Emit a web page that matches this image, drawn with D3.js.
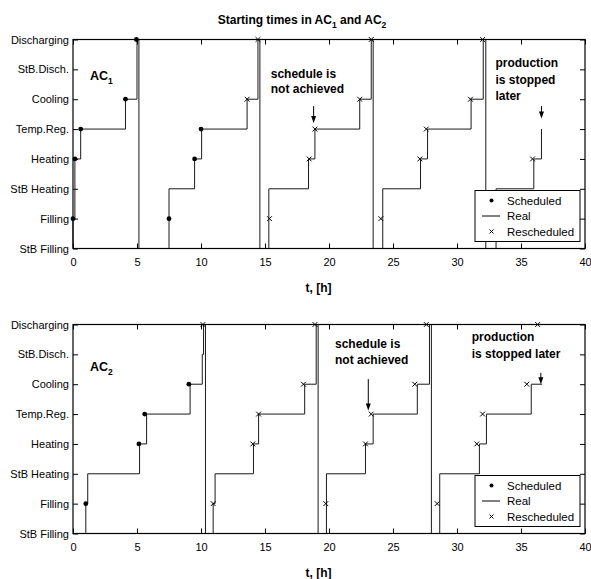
<!DOCTYPE html>
<html lang="en">
<head>
<meta charset="UTF-8" />
<script src="https://d3js.org/d3.v7.min.js"></script>
<title>Starting times</title>
<style>
  body { margin: 0; background: #fff; }
  text { font-family: "Liberation Sans", Arial, sans-serif; }
</style>
</head>
<body>
<script>
// states, bottom to top
const states = ["StB Filling", "Filling", "StB Heating", "Heating", "Temp.Reg.", "Cooling", "StB.Disch.", "Discharging"];
const xTicks = [0, 5, 10, 15, 20, 25, 30, 35, 40];

// AC1: real trajectory per batch as [t, state index]
const ac1Real = [
  [[0, 0], [0, 1], [0.15, 3], [0.6, 4], [4.1, 5], [5.0, 7], [5.15, 0]],
  [[7.5, 0], [7.5, 2], [9.5, 3], [10.05, 4], [13.6, 5], [14.45, 7], [14.6, 0]],
  [[15.3, 0], [15.3, 2], [18.4, 3], [18.9, 4], [22.4, 5], [23.3, 7], [23.45, 0]],
  [[24.2, 0], [24.2, 2], [27.15, 3], [27.7, 4], [31.1, 5], [32.05, 7], [32.25, 0]],
  [[32.95, 0], [33.05, 2], [36.0, 3], [36.6, 4]]
];
const ac1Scheduled = [[0, 1], [0.15, 3], [0.6, 4], [4.1, 5], [4.95, 7], [7.5, 1], [9.5, 3], [10.0, 4]];
const ac1Rescheduled = [[13.6, 5], [14.45, 7], [15.35, 1], [18.45, 3], [18.9, 4], [22.4, 5], [23.3, 7],
  [24.05, 1], [27.1, 3], [27.6, 4], [31.05, 5], [32.0, 7], [35.9, 3]];

// AC2
const ac2Real = [
  [[1.0, 0], [1.0, 1], [1.15, 2], [5.2, 3], [5.75, 4], [9.15, 5], [10.1, 6], [10.2, 7], [10.35, 0]],
  [[10.95, 0], [10.95, 1], [11.1, 2], [14.1, 3], [14.5, 4], [18.1, 5], [19.0, 7], [19.15, 0]],
  [[19.8, 0], [19.8, 2], [22.85, 3], [23.45, 4], [26.9, 5], [27.85, 7], [28.0, 0]],
  [[28.65, 0], [28.65, 2], [31.75, 3], [32.3, 4], [35.8, 5], [36.65, 5]]
];
const ac2Scheduled = [[1.0, 1], [5.15, 3], [5.6, 4], [9.05, 5]];
const ac2Rescheduled = [[10.15, 7], [10.95, 1], [14.05, 3], [14.5, 4], [18.0, 5], [18.9, 7],
  [19.75, 1], [22.85, 3], [23.3, 4], [26.7, 5], [27.6, 7],
  [28.45, 1], [31.55, 3], [32.0, 4], [35.45, 5], [36.3, 7]];

// annotations: text lines [t, state, text], arrows [t, from, to]
const ac1Notes = [[15.45, 5.72, "schedule is"], [15.45, 5.2, "not achieved"],
  [33.0, 6.07, "production"], [33.0, 5.5, "is stopped"], [33.0, 4.97, "later"]];
const ac1Arrows = [[18.8, 4.77, 4.2], [36.6, 4.77, 4.35]];
const ac2Notes = [[20.47, 6.2, "schedule is"], [20.47, 5.67, "not achieved"],
  [31.15, 6.44, "production"], [31.15, 5.87, "is stopped later"]];
const ac2Arrows = [[23.07, 5.17, 4.12], [36.55, 5.38, 5.0]];

const legendItems = ["Scheduled", "Real", "Rescheduled"];

const W = 591, H = 579;
const left = 73, right = 585, ph = 209;

const svg = d3.select("body").append("svg").attr("width", W).attr("height", H);
svg.append("rect").attr("width", W).attr("height", H).attr("fill", "#fff");

const x = d3.scaleLinear().domain([0, 40]).range([left, right]);

function sub(t, main, s, size) {
  t.append("tspan").text(main);
  t.append("tspan").attr("dy", 4).attr("font-size", size).text(s);
}

function drawPanel(top, real, sched, resched, notes, arrows, idx) {
  const y = d3.scaleLinear().domain([0, 7]).range([top + ph, top]);
  const g = svg.append("g");

  // axes with inward ticks
  const ax = g.append("g").attr("transform", `translate(0,${top + ph})`)
    .call(d3.axisBottom(x).tickValues(xTicks).tickSizeInner(-5).tickSizeOuter(0).tickPadding(10));
  const ay = g.append("g").attr("transform", `translate(${left},0)`)
    .call(d3.axisLeft(y).tickValues(d3.range(8)).tickFormat(i => states[i]).tickSizeInner(-5).tickSizeOuter(0).tickPadding(4));
  g.append("g").attr("transform", `translate(0,${top})`)
    .call(d3.axisTop(x).tickValues(xTicks).tickSizeInner(-5).tickSizeOuter(0).tickFormat(""));
  g.append("g").attr("transform", `translate(${right},0)`)
    .call(d3.axisRight(y).tickValues(d3.range(8)).tickSizeInner(-5).tickSizeOuter(0).tickFormat(""));
  g.selectAll(".domain").remove();
  g.selectAll(".tick text").attr("font-size", 11).attr("fill", "#000")
    .style("font-family", '"Liberation Sans", Arial, sans-serif');
  g.selectAll(".tick line").attr("stroke", "#000");

  const line = d3.line().x(d => x(d[0])).y(d => y(d[1])).curve(d3.curveStepAfter);
  g.selectAll("path.real").data(real).join("path").attr("class", "real")
    .attr("d", line).attr("fill", "none").attr("stroke", "#1a1a1a").attr("stroke-width", 1);

  g.selectAll("circle.sched").data(sched).join("circle").attr("class", "sched")
    .attr("cx", d => x(d[0])).attr("cy", d => y(d[1])).attr("r", 2.4).attr("fill", "#000");

  g.selectAll("path.res").data(resched).join("path").attr("class", "res")
    .attr("d", d => {
      const cx = x(d[0]), cy = y(d[1]), s = 2.4;
      return `M${cx - s},${cy - s}L${cx + s},${cy + s}M${cx - s},${cy + s}L${cx + s},${cy - s}`;
    })
    .attr("stroke", "#000").attr("stroke-width", 1);

  // frame
  g.append("rect").attr("x", left).attr("y", top).attr("width", right - left).attr("height", ph)
    .attr("fill", "none").attr("stroke", "#000").attr("stroke-width", 1.2);

  // panel label
  const lab = g.append("text").attr("x", x(1.33)).attr("y", y(idx === 1 ? 5.64 : 5.44))
    .attr("font-size", 12.5).attr("font-weight", "bold");
  sub(lab, "AC", String(idx), 8.5);

  g.selectAll("text.note").data(notes).join("text").attr("class", "note")
    .attr("x", d => x(d[0])).attr("y", d => y(d[1]))
    .attr("font-size", 12).attr("font-weight", "bold").text(d => d[2]);

  arrows.forEach(a => {
    const ax0 = x(a[0]), y1 = y(a[1]), y2 = y(a[2]);
    g.append("line").attr("x1", ax0).attr("x2", ax0).attr("y1", y1).attr("y2", y2 - 6)
      .attr("stroke", "#000").attr("stroke-width", 1);
    g.append("path").attr("d", `M${ax0 - 2.5},${y2 - 7}L${ax0 + 2.5},${y2 - 7}L${ax0},${y2}Z`).attr("fill", "#000");
  });

  // x label
  g.append("text").attr("x", 318.5).attr("y", top + ph + 43).attr("text-anchor", "middle")
    .attr("font-size", 12).attr("font-weight", "bold").text("t, [h]");

  // legend
  const lg = g.append("g").attr("transform", `translate(475,${top + ph - 58})`);
  lg.append("rect").attr("width", 105).attr("height", 51).attr("fill", "#fff")
    .attr("stroke", "#000").attr("stroke-width", 1);
  legendItems.forEach((name, i) => {
    const ly = 10 + i * 15.5;
    if (i === 0) lg.append("circle").attr("cx", 16.5).attr("cy", ly).attr("r", 2).attr("fill", "#000");
    if (i === 1) lg.append("line").attr("x1", 7).attr("x2", 25).attr("y1", ly).attr("y2", ly).attr("stroke", "#000");
    if (i === 2) lg.append("path").attr("d", `M14.5,${ly - 2}L18.5,${ly + 2}M14.5,${ly + 2}L18.5,${ly - 2}`)
      .attr("stroke", "#000");
    lg.append("text").attr("x", 32).attr("y", ly + 4).attr("font-size", 11.5).text(name);
  });
}

drawPanel(39.5, ac1Real, ac1Scheduled, ac1Rescheduled, ac1Notes, ac1Arrows, 1);
drawPanel(324.5, ac2Real, ac2Scheduled, ac2Rescheduled, ac2Notes, ac2Arrows, 2);

// title
const title = svg.append("text").attr("x", 302).attr("y", 24).attr("text-anchor", "middle")
  .attr("font-size", 12).attr("font-weight", "bold");
title.append("tspan").text("Starting times in AC");
title.append("tspan").attr("dy", 4).attr("font-size", 8.5).text("1");
title.append("tspan").attr("dy", -4).text(" and AC");
title.append("tspan").attr("dy", 4).attr("font-size", 8.5).text("2");
</script>
</body>
</html>
